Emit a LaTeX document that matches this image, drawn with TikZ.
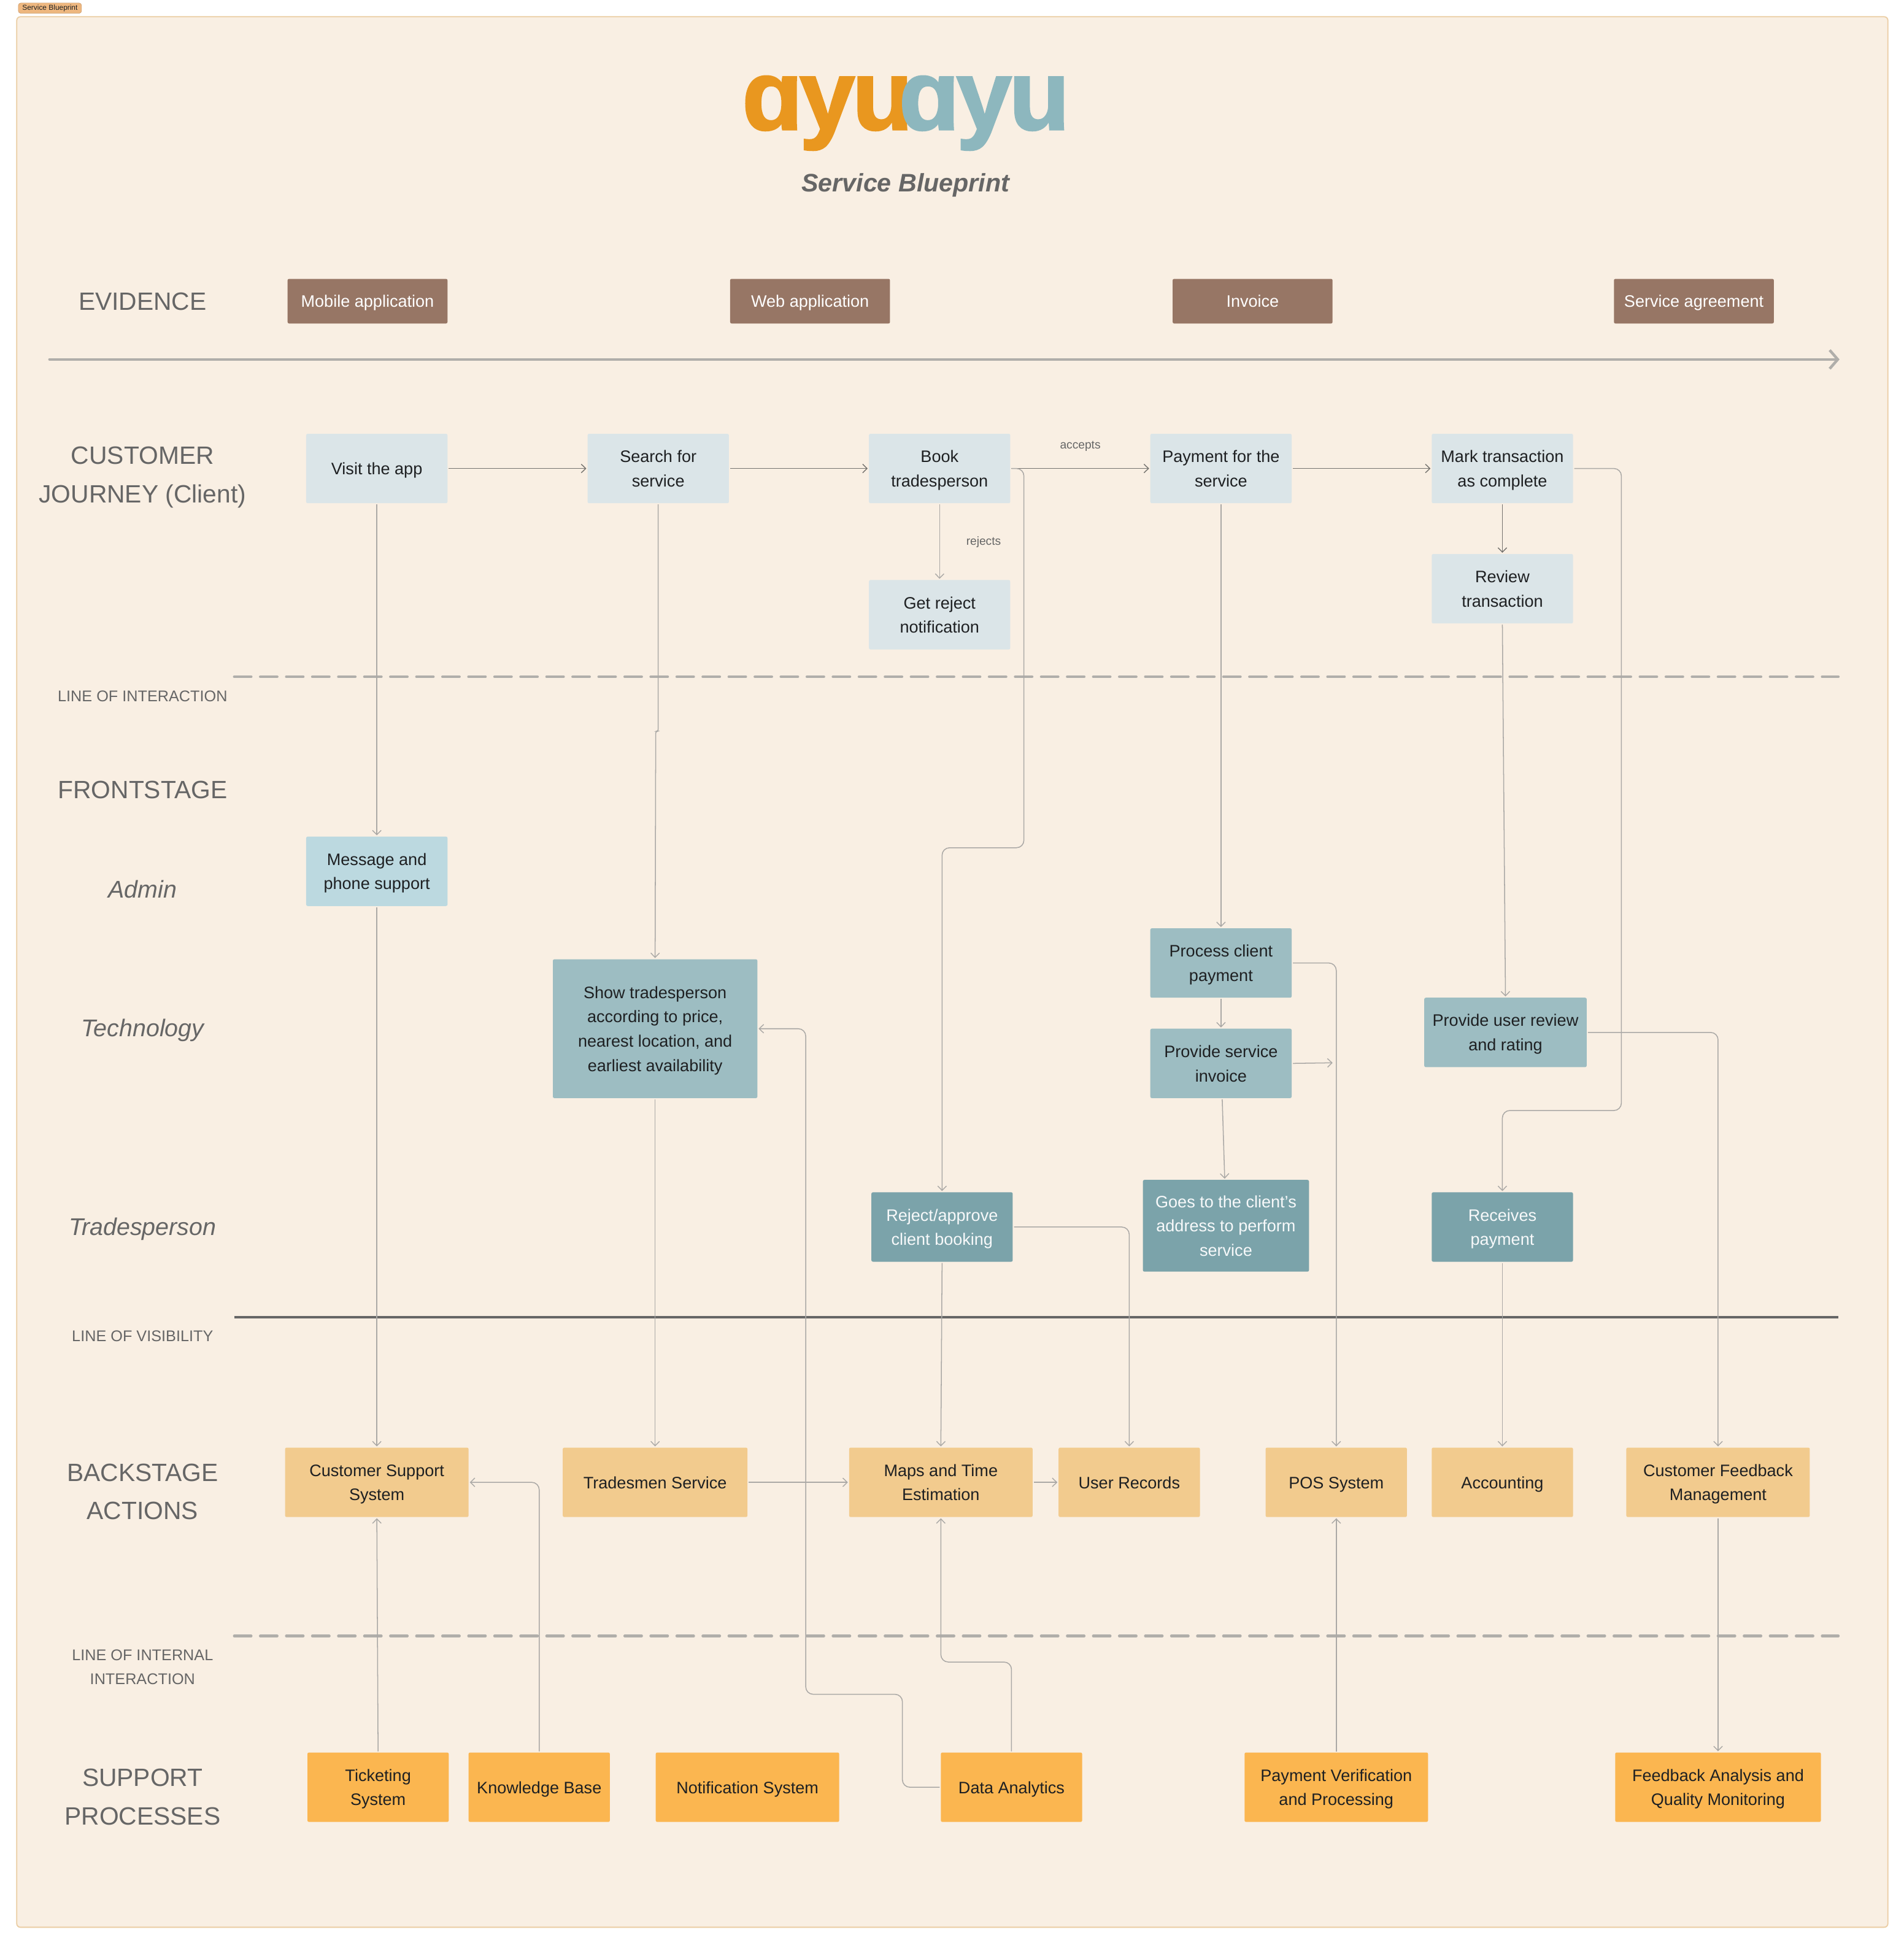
\documentclass[tikz,border=0pt]{standalone}
\usepackage{fontspec}
\setmainfont{Liberation Sans}
\newfontfamily\logofont[FakeBold=2]{Liberation Sans Bold}
\usetikzlibrary{arrows.meta}
\definecolor{framefill}{HTML}{F9EFE3}
\definecolor{frameline}{HTML}{EBCDA3}
\definecolor{tagfill}{HTML}{EEB77F}
\definecolor{cevid}{HTML}{977665}
\definecolor{cjour}{HTML}{DBE5E8}
\definecolor{cadm}{HTML}{BCD9E0}
\definecolor{ctech}{HTML}{9DBDC2}
\definecolor{ctrad}{HTML}{7BA3AA}
\definecolor{cback}{HTML}{F2CB8E}
\definecolor{csupp}{HTML}{FBB650}
\definecolor{ink}{HTML}{1E2022}
\definecolor{head}{HTML}{666666}
\definecolor{ln}{HTML}{ABA9A6}
\definecolor{lnd}{HTML}{75736F}
\definecolor{sep}{HTML}{B0AEAA}
\definecolor{logoO}{HTML}{E9971F}
\definecolor{logoT}{HTML}{8DB7BE}
\newcommand\bx[7]{\node[boxbase,#1,minimum width={(#5-#3)*1pt},minimum height={(#6-#4)*1pt}] (#2) at ({(#3+#5)/2},{(#4+#6)/2}) {\rule{0pt}{15.7pt}#7\strut};}
\tikzset{
 boxbase/.style={rectangle,rounded corners=1.2pt,align=center,inner sep=0pt,outer sep=1pt,text=ink,font=\fontsize{13.4}{19.6}\selectfont},
 evid/.style={fill=cevid,text=white},
 jour/.style={fill=cjour},
 adm/.style={fill=cadm},
 tech/.style={fill=ctech},
 trad/.style={fill=ctrad,text=white!94!ctrad},
 back/.style={fill=cback},
 supp/.style={fill=csupp},
 rowhead/.style={text=head,align=center,font=\fontsize{20.2}{31}\selectfont,inner sep=0pt},
 rowsub/.style={text=head,font=\fontsize{19.5}{24}\selectfont\itshape,inner sep=0pt,text height=14pt,text depth=5pt},
 rowline/.style={text=head,align=center,font=\fontsize{12.5}{19.6}\selectfont,inner sep=0pt},
 edgetext/.style={text=head,font=\fontsize{9.5}{12}\selectfont,inner sep=0pt},
 conn/.style={draw=ln,line width=.75pt,rounded corners=6pt,-{Straight Barb[length=3.6pt,width=7pt,line width=.7pt]}},
 connd/.style={conn,draw=lnd},
 dashsep/.style={draw=sep,line width=2.2pt,line cap=round,dash pattern=on 13.6pt off 7.4pt},
}
\begin{document}
\begin{tikzpicture}[x=1pt,y=-1pt]
\useasboundingbox (0,0) rectangle (1536,1567.7);
\fill[white] (0,0) rectangle (1536,1567.7);
\node[fill=tagfill,draw=tagfill!85!black,line width=.3pt,rounded corners=2pt,inner xsep=3.2pt,inner ysep=1.4pt,text=ink,font=\fontsize{5.9}{7}\selectfont] (tag) at (40.3,6.6) {Service Blueprint};
\draw[fill=framefill,draw=frameline,line width=.9pt,rounded corners=3pt] (13.5,13.5) rectangle (1523,1555);
% logo
\node[anchor=base west,inner sep=0pt,text=logoO,font=\fontsize{80}{80}\logofont] (logoa) at (598.5,104.5) {ɑ\kern-2.5pt y\kern-2pt u};
\node[anchor=base west,inner sep=0pt,text=logoT,font=\fontsize{80}{80}\logofont] (logob) at (725,104.5) {ɑ\kern-2.5pt y\kern-2pt u};
\node[inner sep=0pt,text=head,font=\fontsize{20.4}{26}\selectfont\bfseries\itshape] (title) at (730.5,149.5) {Service Blueprint};
% row headings
\node[rowhead] (hevid) at (115,243.5) {EVIDENCE};
\node[rowhead] (hjour) at (115,385) {CUSTOMER\\JOURNEY (Client)};
\node[rowline] (hli) at (115,561.5) {LINE OF INTERACTION};
\node[rowhead] (hfront) at (115,637.5) {FRONTSTAGE};
\node[rowsub] (hadm) at (115,720) {Admin};
\node[rowsub] (htech) at (115,832) {Technology};
\node[rowsub] (htrad) at (115,992) {Tradesperson};
\node[rowline] (hlv) at (115,1078) {LINE OF VISIBILITY};
\node[rowhead] (hback) at (115,1203.5) {BACKSTAGE\\ACTIONS};
\node[rowline] (hlii) at (115,1345) {LINE OF INTERNAL\\INTERACTION};
\node[rowhead] (hsupp) at (115,1450) {SUPPORT\\PROCESSES};
% separators
\coordinate (a1) at (40,290); \coordinate (a2) at (1484,290);
\coordinate (d1a) at (189,546); \coordinate (d1b) at (1483,546);
\coordinate (v1a) at (189,1063); \coordinate (v1b) at (1483,1063);
\coordinate (d2a) at (189,1320); \coordinate (d2b) at (1483,1320);
\draw[draw=sep,line width=2.2pt,line cap=round,-{Straight Barb[length=6.5pt,width=15pt,line width=2.2pt]}] (a1) -- (a2);
\draw[dashsep] (d1a) -- (d1b);
\draw[draw=head,line width=2pt] (v1a) -- (v1b);
\draw[dashsep] (d2a) -- (d2b);
% evidence
\bx{evid}{ev1}{232}{225}{361}{261}{Mobile application}
\bx{evid}{ev2}{589}{225}{718}{261}{Web application}
\bx{evid}{ev3}{946}{225}{1075}{261}{Invoice}
\bx{evid}{ev4}{1302}{225}{1431}{261}{Service agreement}
% journey
\bx{jour}{visit}{247}{350}{361}{406}{Visit the app}
\bx{jour}{search}{474}{350}{588}{406}{Search for\\service}
\bx{jour}{book}{701}{350}{815}{406}{Book\\tradesperson}
\bx{jour}{pay}{928}{350}{1042}{406}{Payment for the\\service}
\bx{jour}{mark}{1155}{350}{1269}{406}{Mark transaction\\as complete}
\bx{jour}{getrej}{701}{468}{815}{524}{Get reject\\notification}
\bx{jour}{review}{1155}{447}{1269}{503}{Review\\transaction}
% frontstage
\bx{adm}{msg}{247}{675}{361}{731}{Message and\\phone support}
\bx{tech}{show}{446}{774}{611}{886}{Show tradesperson\\according to price,\\nearest location, and\\earliest availability}
\bx{tech}{proc}{928}{749}{1042}{805}{Process client\\payment}
\bx{tech}{inv}{928}{830}{1042}{886}{Provide service\\invoice}
\bx{tech}{urev}{1149}{805}{1280}{861}{Provide user review\\and rating}
\bx{trad}{rej}{703}{962}{817}{1018}{Reject/approve\\client booking}
\bx{trad}{goes}{922}{952}{1056}{1026}{Goes to the client's\\address to perform\\service}
\bx{trad}{recv}{1155}{962}{1269}{1018}{Receives\\payment}
% backstage
\bx{back}{csys}{230}{1168}{378}{1224}{Customer Support\\System}
\bx{back}{tsvc}{454}{1168}{603}{1224}{Tradesmen Service}
\bx{back}{maps}{685}{1168}{833}{1224}{Maps and Time\\Estimation}
\bx{back}{urec}{854}{1168}{968}{1224}{User Records}
\bx{back}{pos}{1021}{1168}{1135}{1224}{POS System}
\bx{back}{acct}{1155}{1168}{1269}{1224}{Accounting}
\bx{back}{cfb}{1312}{1168}{1460}{1224}{Customer Feedback\\Management}
% support
\bx{supp}{tick}{248}{1414}{362}{1470}{Ticketing\\System}
\bx{supp}{know}{378}{1414}{492}{1470}{Knowledge Base}
\bx{supp}{noti}{529}{1414}{677}{1470}{Notification System}
\bx{supp}{data}{759}{1414}{873}{1470}{Data Analytics}
\bx{supp}{pver}{1004}{1414}{1152}{1470}{Payment Verification\\and Processing}
\bx{supp}{fbq}{1303}{1414}{1469}{1470}{Feedback Analysis and\\Quality Monitoring}
% edge labels
\node[edgetext] (lacc) at (871.5,360) {accepts};
\node[edgetext] (lrej) at (793.5,437.5) {rejects};
% connectors
\draw[connd] (visit.east) -- (search.west);
\draw[connd] (search.east) -- (book.west);
\draw[connd] (book.east) -- (pay.west);
\draw[connd] (pay.east) -- (mark.west);
\draw[connd] (mark.south) -- (review.north);
\draw[conn] (book.south) -- (getrej.north);
\draw[conn] (visit.south) -- (msg.north);
\draw[conn] (msg.south) -- (csys.north);
\coordinate (j1) at (531,590); \coordinate (j2) at (529,590);
\draw[conn,rounded corners=1.5pt] (search.south) -- (j1) -- (j2) -- (show.north);
\draw[conn] (show.south) -- (tsvc.north);
\coordinate (b1) at (826,684);
\draw[conn] (book.east) -| (b1) -| (rej.north);
\draw[conn] (pay.south) -- (proc.north);
\draw[conn] (proc.south) -- (inv.north);
\coordinate (invend) at (1075,857.5);
\draw[conn] (inv.east) -- (invend);
\draw[conn] (proc.east) -| (pos.north);
\draw[conn] ([xshift=1pt]inv.south) -- ([xshift=-1pt]goes.north);
\draw[conn] (review.south) -- (urev.north);
\coordinate (m1) at (1308,896);
\draw[conn] (mark.east) -| (m1) -| (recv.north);
\draw[conn] (urev.east) -| (cfb.north);
\draw[conn] (recv.south) -- (acct.north);
\draw[conn] (rej.south) -- (maps.north);
\draw[conn] (rej.east) -| (urec.north);
\draw[conn] (tsvc.east) -- (maps.west);
\draw[conn] (maps.east) -- (urec.west);
\draw[conn] (tick.north) -- (csys.south);
\draw[conn] (know.north) |- (csys.east);
\coordinate (d1) at (816,1341);
\draw[conn] (data.north) -- (d1) -| (maps.south);
\coordinate (d2) at (728,1367); \coordinate (d3) at (650,830);
\draw[conn] (data.west) -| (d2) -| (d3) -- (show.east);
\draw[conn] (pver.north) -- (pos.south);
\draw[conn] (cfb.south) -- (fbq.north);
\end{tikzpicture}
\end{document}
